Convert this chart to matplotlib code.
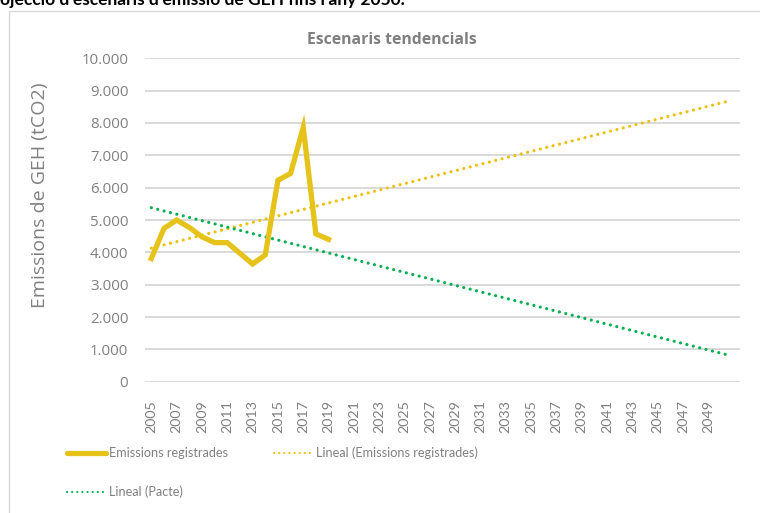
import numpy as np
import matplotlib
matplotlib.use("Agg")
import matplotlib.pyplot as plt
from matplotlib.lines import Line2D
from matplotlib.patches import Rectangle

# Emissions registrades (tCO2)
anys = list(range(2005, 2020))
emissions = [3810, 4740, 5000, 4770, 4480, 4300, 4300, 3970, 3640, 3920,
             6230, 6440, 7860, 4570, 4400]

# Punts del Pacte (objectiu de reducció)
anys_pacte = [2005, 2030]
valors_pacte = [5380, 2880]

anys_eix = list(range(2005, 2052))
fi_previsio = 2050.7

GROC = "#E6C31A"
GROC_TEND = "#EDC00C"
VERD = "#00B050"
GRIS = "#808080"
GRIS_GRAELLA = "#D9D9D9"

fig = plt.figure(figsize=(7.6, 5.13), dpi=100)
ax = fig.add_axes([145 / 760, 1 - 381.7 / 513, 595 / 760, (381.7 - 58.3) / 513])

# Línia d'emissions
ax.plot(anys, emissions, color=GROC, lw=3.8, solid_joinstyle="miter", zorder=4)

# Línies de tendència lineals amb previsió fins al 2050
def tendencia(x, y):
    m, b = np.polyfit(x, y, 1)
    xs = np.array([x[0], fi_previsio])
    return xs, m * xs + b

punts = dict(lw=2.3, ls=(0, (0.01, 2.05)), dash_capstyle="round", zorder=3)
tx, ty = tendencia(anys, emissions)
ax.plot(tx, ty, color=GROC_TEND, **punts)
px, py = tendencia(anys_pacte, valors_pacte)
ax.plot(px, py, color=VERD, **punts)

ax.set_xlim(2004.5, 2051.5)
ax.set_ylim(0, 10000)
ax.set_yticks(range(0, 10001, 1000))
ax.set_yticklabels([f"{v:,.0f}".replace(",", ".") for v in range(0, 10001, 1000)],
                   fontsize=10.8, color=GRIS, family="Open Sans")
ax.set_xticks(anys_eix[:-2:2])
ax.set_xticklabels([str(a) for a in anys_eix[:-2:2]], rotation=90, fontsize=10.3,
                   color=GRIS, family="Lato")
ax.tick_params(axis="both", length=0)
ax.tick_params(axis="x", pad=13)
ax.tick_params(axis="y", pad=12)
ax.grid(axis="y", color=GRIS_GRAELLA, lw=1.4)
ax.set_axisbelow(True)
for s in ax.spines.values():
    s.set_visible(False)

ax.set_ylabel("Emissions de GEH (tCO2)", fontsize=14, color=GRIS, family="Open Sans")
ax.yaxis.set_label_coords(-0.161, 0.577)

fig.text(392 / 760, 1 - 40 / 513, "Escenaris tendencials", ha="center", va="center",
         fontsize=11.3, fontweight="bold", color=GRIS, family="Open Sans")

# Títol de la secció (tallat a la part superior)
fig.text(0, 1 - 5 / 513, "ojecció d'escenaris d'emissió de GEH fins l'any 2050.",
         ha="left", va="baseline", fontsize=12.5, fontweight="bold", color="black",
         family="Lato")

# Marc del gràfic
fig.add_artist(Rectangle((9 / 760, -0.01), 1.0, 1 - 11 / 513 + 0.01,
                         transform=fig.transFigure, fill=False,
                         edgecolor=GRIS_GRAELLA, lw=1.0))

# Llegenda
font_lleg = dict(fontsize=9.1, color=GRIS, family="Lato", va="center", ha="left")
punts_lleg = dict(lw=1.6, ls=(0, (0.01, 2.3)), dash_capstyle="round")
entrades = [
    (67, 453, "Emissions registrades", dict(color=GROC, lw=3.8, solid_capstyle="round")),
    (274, 453, "Lineal (Emissions registrades)", dict(color=GROC_TEND, **punts_lleg)),
    (67, 492, "Lineal (Pacte)", dict(color=VERD, **punts_lleg)),
]
for x0, y0, txt, estil in entrades:
    yf = 1 - y0 / 513
    fig.add_artist(Line2D([x0 / 760, (x0 + 39) / 760], [yf, yf],
                          transform=fig.transFigure, **estil))
    fig.text((x0 + 42) / 760, yf, txt, **font_lleg)

fig.savefig("out.png", dpi=100)
